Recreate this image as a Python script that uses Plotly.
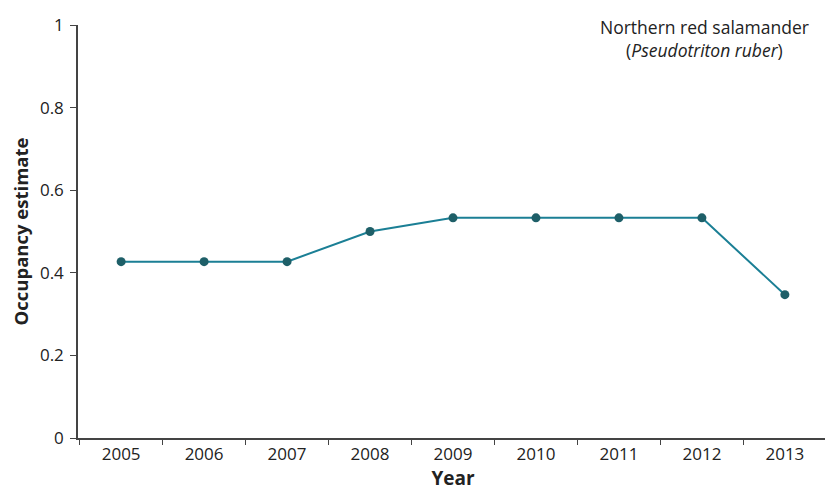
import plotly.graph_objects as go

years = ['2005', '2006', '2007', '2008', '2009', '2010', '2011', '2012', '2013']
occupancy = [0.427, 0.427, 0.427, 0.50, 0.533, 0.533, 0.533, 0.533, 0.347]

y_ticks = [0, 0.2, 0.4, 0.6, 0.8, 1]
y_tick_labels = ['0', '0.2', '0.4', '0.6', '0.8', '1']

font_family = 'Open Sans, Noto Sans, sans-serif'

fig = go.Figure()
fig.add_trace(go.Scatter(
    x=years, y=occupancy,
    mode='lines+markers',
    line=dict(color='#1b7f95', width=2),
    marker=dict(color='#1e5f68', size=9),
    showlegend=False
))

# species label, top right
fig.add_annotation(
    text='Northern red salamander<br>(<i>Pseudotriton ruber</i>)',
    xref='paper', yref='paper', x=0.835, y=1.03,
    xanchor='center', yanchor='top', showarrow=False,
    align='center', font=dict(size=17.5, color='#222')
)

fig.update_xaxes(
    type='category',
    title=dict(text='<b>Year</b>', font=dict(size=19, color='#222'), standoff=0),
    showline=True, linecolor='#444', linewidth=1.5,
    ticks='outside', tickson='boundaries', ticklen=5, tickcolor='#444',
    tickfont=dict(size=17, color='#222'),
    showgrid=False, zeroline=False
)
fig.update_yaxes(
    range=[0, 1],
    tickvals=y_ticks, ticktext=y_tick_labels,
    title=dict(text='<b>Occupancy estimate</b>', font=dict(size=18.5, color='#222'), standoff=6),
    showline=True, linecolor='#444', linewidth=1.5,
    ticks='outside', ticklen=6, tickcolor='#444', ticklabelstandoff=3,
    tickfont=dict(size=17, color='#222'),
    showgrid=False, zeroline=False
)

# page body has an 8px margin, so the figure is a bit smaller than the window
fig.update_layout(
    width=825, height=488,
    margin=dict(l=70, r=5, t=14, b=58),
    plot_bgcolor='white', paper_bgcolor='white',
    font=dict(family=font_family)
)

fig.write_html("out.html")
